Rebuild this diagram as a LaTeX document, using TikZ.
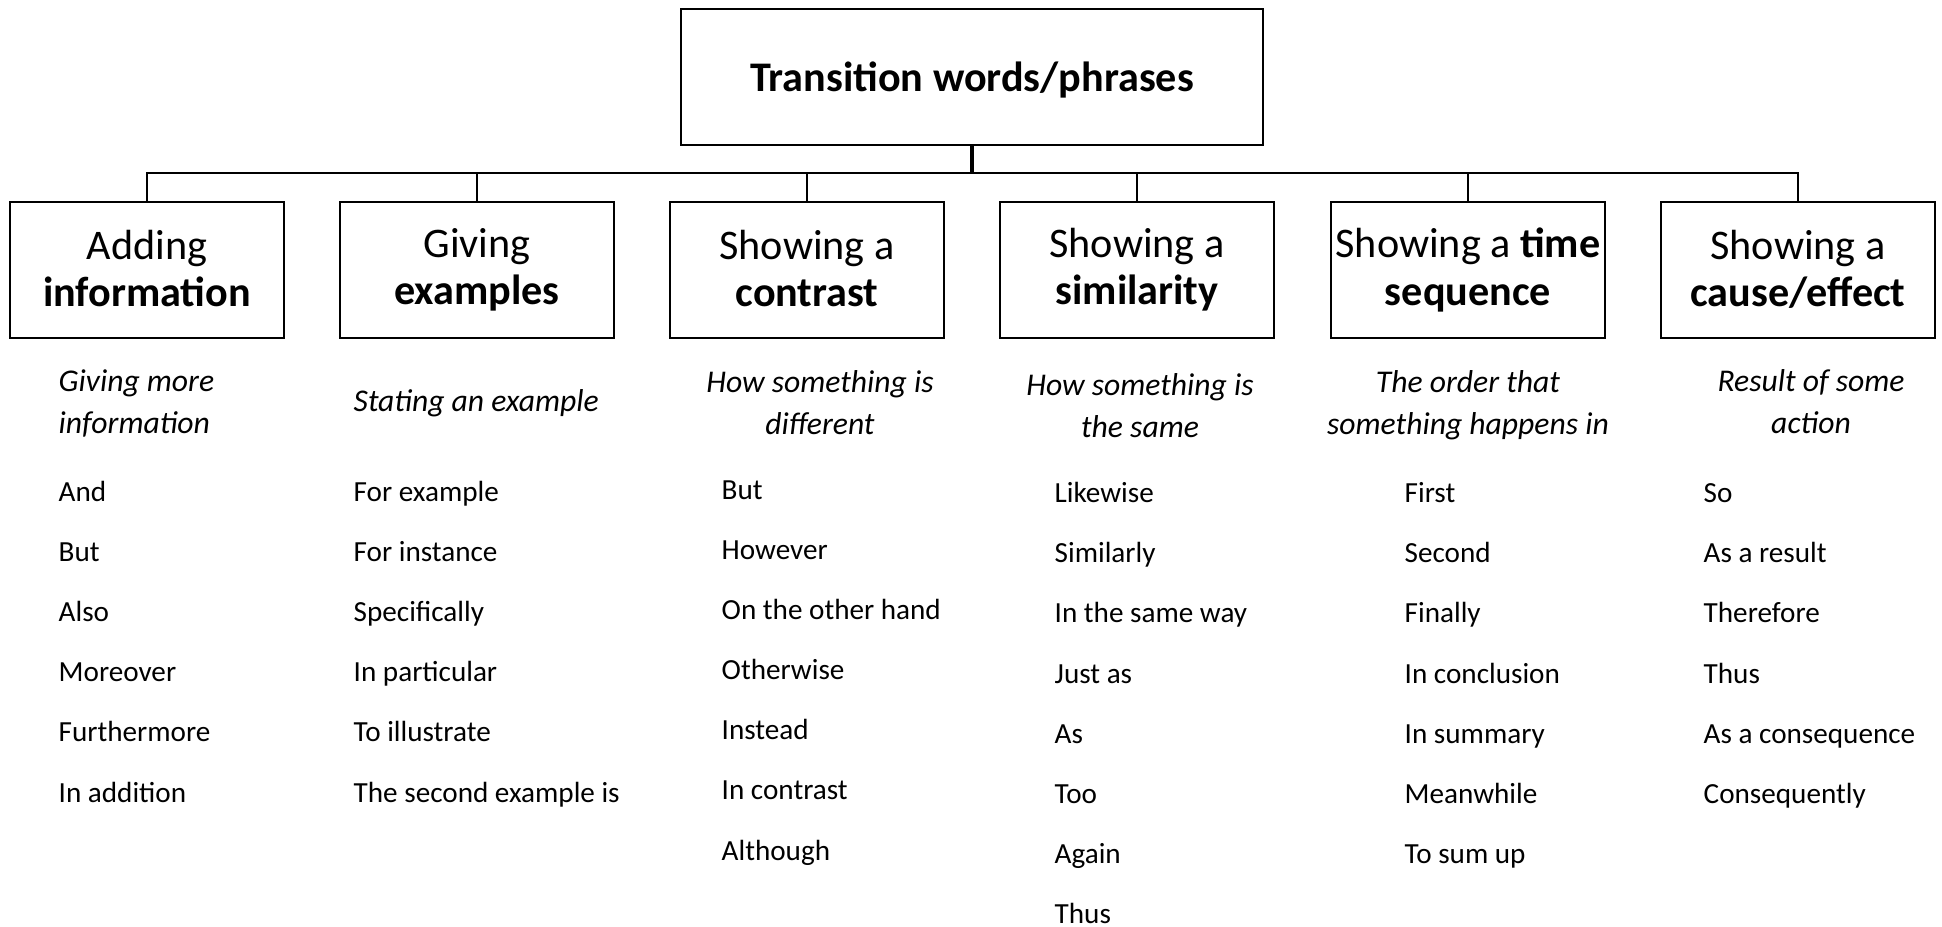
\documentclass[tikz,border=0pt]{standalone}
\usepackage{fontspec}
\setmainfont{Carlito}
\usetikzlibrary{positioning}

\newcommand{\headstrut}{\rule[-1pt]{0pt}{11.5pt}}

\tikzset{
  catbox/.style={draw, line width=0.8pt, minimum width=2.74cm, minimum height=1.36cm, align=center, inner sep=0pt,
    font=\fontsize{12}{13.4}\selectfont, execute at begin node=\headstrut, execute at end node=\headstrut},
  rootbox/.style={catbox, minimum width=5.82cm, execute at begin node=\rule[-2pt]{0pt}{11.4pt}, execute at end node={}},
  desc/.style={align=center, inner sep=0pt, font=\fontsize{9}{11.9}\selectfont\itshape,
    execute at begin node=\strut, execute at end node=\strut},
  phrase/.style={anchor=base west, inner sep=0pt, font=\fontsize{8.3}{10}\selectfont},
}

\begin{document}
\begin{tikzpicture}
\useasboundingbox (0,0) rectangle (19.42,-9.27);
% Root and categories
\node[rootbox] (root) at (9.72,-0.77) {\textbf{Transition words/phrases}};
\node[catbox] (adding) at (1.47,-2.70) {Adding\\\textbf{information}};
\node[catbox] (giving) at (4.77,-2.70) {Giving\\\textbf{examples}};
\node[catbox] (contrast) at (8.07,-2.70) {Showing a\\\textbf{contrast}};
\node[catbox] (similar) at (11.37,-2.70) {Showing a\\\textbf{similarity}};
\node[catbox] (timeseq) at (14.68,-2.70) {Showing a \textbf{time}\\\textbf{sequence}};
\node[catbox] (cause) at (17.98,-2.70) {Showing a\\\textbf{cause/effect}};
% Connectors
\coordinate (bus) at (9.72,-1.73);
\draw[line width=1pt] (root.south) -- (bus);
\draw[line width=0.8pt] (adding.north) -- (adding.north |- bus) -- (cause.north |- bus) -- (cause.north);
\draw[line width=0.8pt] (giving.north) -- (giving.north |- bus);
\draw[line width=0.8pt] (contrast.north) -- (contrast.north |- bus);
\draw[line width=0.8pt] (similar.north) -- (similar.north |- bus);
\draw[line width=0.8pt] (timeseq.north) -- (timeseq.north |- bus);
% Descriptions
\node[desc, anchor=west, align=left] (d1) at (0.58,-4.075) {Giving more\\information};
\node[desc, anchor=west] (d2) at (3.53,-4.03) {Stating an example};
\node[desc] (d3) at (8.20,-4.085) {How something is\\different};
\node[desc] (d4) at (11.40,-4.115) {How something is\\the same};
\node[desc] (d5) at (14.68,-4.085) {The order that\\something happens in};
\node[desc] (d6) at (18.11,-4.075) {Result of some\\action};
% Adding information
\node[phrase] (a1) at (0.58,-5.02) {And};
\node[phrase] (a2) at (0.58,-5.62) {But};
\node[phrase] (a3) at (0.58,-6.22) {Also};
\node[phrase] (a4) at (0.58,-6.82) {Moreover};
\node[phrase] (a5) at (0.58,-7.42) {Furthermore};
\node[phrase] (a6) at (0.58,-8.02) {In addition};
% Giving examples
\node[phrase] (g1) at (3.53,-5.02) {For example};
\node[phrase] (g2) at (3.53,-5.62) {For instance};
\node[phrase] (g3) at (3.53,-6.22) {Specifically};
\node[phrase] (g4) at (3.53,-6.82) {In particular};
\node[phrase] (g5) at (3.53,-7.42) {To illustrate};
\node[phrase] (g6) at (3.53,-8.02) {The second example is};
% Showing a contrast
\node[phrase] (c1) at (7.21,-5.00) {But};
\node[phrase] (c2) at (7.21,-5.60) {However};
\node[phrase] (c3) at (7.21,-6.20) {On the other hand};
\node[phrase] (c4) at (7.21,-6.80) {Otherwise};
\node[phrase] (c5) at (7.21,-7.40) {Instead};
\node[phrase] (c6) at (7.21,-8.00) {In contrast};
\node[phrase] (c7) at (7.21,-8.60) {Although};
% Showing a similarity
\node[phrase] (s1) at (10.54,-5.03) {Likewise};
\node[phrase] (s2) at (10.54,-5.63) {Similarly};
\node[phrase] (s3) at (10.54,-6.23) {In the same way};
\node[phrase] (s4) at (10.54,-6.83) {Just as};
\node[phrase] (s5) at (10.54,-7.43) {As};
\node[phrase] (s6) at (10.54,-8.03) {Too};
\node[phrase] (s7) at (10.54,-8.63) {Again};
\node[phrase] (s8) at (10.54,-9.23) {Thus};
% Showing a time sequence
\node[phrase] (t1) at (14.04,-5.03) {First};
\node[phrase] (t2) at (14.04,-5.63) {Second};
\node[phrase] (t3) at (14.04,-6.23) {Finally};
\node[phrase] (t4) at (14.04,-6.83) {In conclusion};
\node[phrase] (t5) at (14.04,-7.43) {In summary};
\node[phrase] (t6) at (14.04,-8.03) {Meanwhile};
\node[phrase] (t7) at (14.04,-8.63) {To sum up};
% Showing a cause/effect
\node[phrase] (e1) at (17.03,-5.03) {So};
\node[phrase] (e2) at (17.03,-5.63) {As a result};
\node[phrase] (e3) at (17.03,-6.23) {Therefore};
\node[phrase] (e4) at (17.03,-6.83) {Thus};
\node[phrase] (e5) at (17.03,-7.43) {As a consequence};
\node[phrase] (e6) at (17.03,-8.03) {Consequently};
\end{tikzpicture}
\end{document}
